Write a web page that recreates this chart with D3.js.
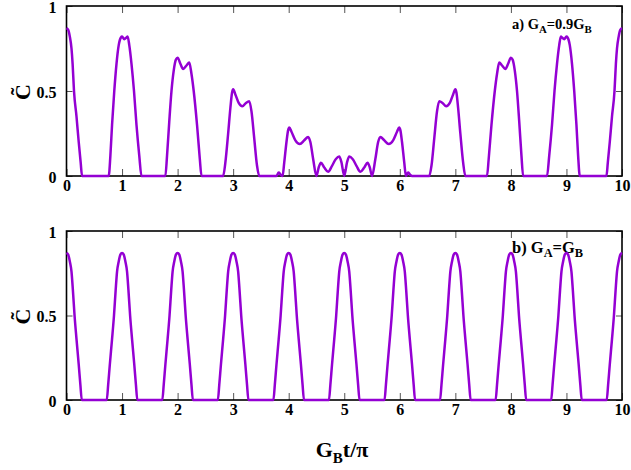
<!DOCTYPE html>
<html>
<head>
<meta charset="utf-8">
<script src="https://cdn.jsdelivr.net/npm/d3@7"></script>
<style>
  body { margin: 0; background: #fff; }
  svg text { font-family: "Liberation Serif", "Times New Roman", serif; font-weight: bold; }
</style>
</head>
<body>
<div id="chart"></div>
<script>
// Tick values
const xTicks = [0, 1, 2, 3, 4, 5, 6, 7, 8, 9, 10];
const yTicks = [0, 0.5, 1];

// Panel a) G_A = 0.9 G_B, [G_B t / pi, C~]
const unequal = [
  [0, 0.87], [0.03, 0.86], [0.06, 0.82], [0.09, 0.75], [0.11, 0.66], [0.135, 0.5], [0.18, 0.35], [0.22, 0.2], [0.255, 0.08], [0.28, 0],
  [0.76, 0], [0.79, 0.12], [0.82, 0.3], [0.86, 0.5], [0.9, 0.66], [0.94, 0.77], [0.98, 0.815], [1.0, 0.82], [1.04, 0.805], [1.08, 0.815], [1.1, 0.82], [1.13, 0.77], [1.17, 0.66], [1.215, 0.5], [1.26, 0.3], [1.31, 0.12], [1.35, 0],
  [1.78, 0], [1.81, 0.12], [1.85, 0.32], [1.89, 0.5], [1.93, 0.62], [1.97, 0.685], [2.0, 0.696], [2.05, 0.66], [2.1, 0.63], [2.16, 0.65], [2.21, 0.668], [2.25, 0.6], [2.29, 0.5], [2.35, 0.3], [2.4, 0.1], [2.43, 0],
  [2.82, 0], [2.86, 0.08], [2.91, 0.25], [2.95, 0.4], [2.98, 0.49], [3.0, 0.51], [3.04, 0.48], [3.1, 0.43], [3.165, 0.41], [3.23, 0.43], [3.29, 0.44], [3.33, 0.38], [3.38, 0.22], [3.43, 0.06], [3.47, 0],
  [3.78, 0], [3.82, 0.02], [3.85, 0.01], [3.89, 0],
  [3.92, 0.08], [3.96, 0.2], [3.99, 0.27], [4.01, 0.286], [4.05, 0.26], [4.12, 0.21], [4.2, 0.188], [4.28, 0.21], [4.35, 0.23], [4.39, 0.2], [4.44, 0.1], [4.5, 0],
  [4.54, 0.05], [4.58, 0.078], [4.64, 0.05], [4.71, 0.025], [4.78, 0.06], [4.85, 0.1], [4.91, 0.114], [4.95, 0.08], [5.0, 0],
  [5.05, 0.08], [5.09, 0.114], [5.15, 0.1], [5.22, 0.06], [5.29, 0.025], [5.36, 0.05], [5.42, 0.078], [5.46, 0.05], [5.5, 0],
  [5.56, 0.1], [5.61, 0.2], [5.65, 0.23], [5.72, 0.21], [5.8, 0.188], [5.88, 0.21], [5.95, 0.26], [5.99, 0.286], [6.01, 0.27], [6.04, 0.2], [6.08, 0.08], [6.11, 0],
  [6.15, 0.02], [6.18, 0.01], [6.22, 0],
  [6.53, 0], [6.57, 0.06], [6.62, 0.22], [6.67, 0.38], [6.71, 0.44], [6.77, 0.43], [6.835, 0.41], [6.9, 0.43], [6.96, 0.48], [7.0, 0.51], [7.02, 0.49], [7.05, 0.4], [7.09, 0.25], [7.14, 0.08], [7.18, 0],
  [7.57, 0], [7.6, 0.1], [7.65, 0.3], [7.71, 0.5], [7.75, 0.6], [7.79, 0.668], [7.84, 0.65], [7.9, 0.63], [7.95, 0.66], [8.0, 0.696], [8.03, 0.685], [8.07, 0.62], [8.11, 0.5], [8.15, 0.32], [8.19, 0.12], [8.22, 0],
  [8.65, 0], [8.69, 0.12], [8.74, 0.3], [8.785, 0.5], [8.83, 0.66], [8.87, 0.77], [8.9, 0.82], [8.92, 0.815], [8.96, 0.805], [9.0, 0.82], [9.02, 0.815], [9.06, 0.77], [9.1, 0.66], [9.14, 0.5], [9.18, 0.3], [9.21, 0.12], [9.24, 0],
  [9.72, 0], [9.745, 0.08], [9.78, 0.2], [9.82, 0.35], [9.865, 0.5], [9.89, 0.66], [9.91, 0.75], [9.94, 0.82], [9.97, 0.86], [10, 0.87]
];

// Panel b) G_A = G_B
const equal = [
  [0, 0.87], [0.03, 0.86], [0.06, 0.82], [0.09, 0.76], [0.115, 0.65], [0.145, 0.5], [0.18, 0.36], [0.22, 0.21], [0.25, 0.09], [0.275, 0],
  [0.725, 0], [0.75, 0.09], [0.78, 0.21], [0.82, 0.36], [0.855, 0.5], [0.885, 0.65], [0.91, 0.76], [0.94, 0.82], [0.97, 0.86], [1, 0.87], [1.03, 0.86], [1.06, 0.82], [1.09, 0.76], [1.115, 0.65], [1.145, 0.5], [1.18, 0.36], [1.22, 0.21], [1.25, 0.09], [1.275, 0],
  [1.725, 0], [1.75, 0.09], [1.78, 0.21], [1.82, 0.36], [1.855, 0.5], [1.885, 0.65], [1.91, 0.76], [1.94, 0.82], [1.97, 0.86], [2, 0.87], [2.03, 0.86], [2.06, 0.82], [2.09, 0.76], [2.115, 0.65], [2.145, 0.5], [2.18, 0.36], [2.22, 0.21], [2.25, 0.09], [2.275, 0],
  [2.725, 0], [2.75, 0.09], [2.78, 0.21], [2.82, 0.36], [2.855, 0.5], [2.885, 0.65], [2.91, 0.76], [2.94, 0.82], [2.97, 0.86], [3, 0.87], [3.03, 0.86], [3.06, 0.82], [3.09, 0.76], [3.115, 0.65], [3.145, 0.5], [3.18, 0.36], [3.22, 0.21], [3.25, 0.09], [3.275, 0],
  [3.725, 0], [3.75, 0.09], [3.78, 0.21], [3.82, 0.36], [3.855, 0.5], [3.885, 0.65], [3.91, 0.76], [3.94, 0.82], [3.97, 0.86], [4, 0.87], [4.03, 0.86], [4.06, 0.82], [4.09, 0.76], [4.115, 0.65], [4.145, 0.5], [4.18, 0.36], [4.22, 0.21], [4.25, 0.09], [4.275, 0],
  [4.725, 0], [4.75, 0.09], [4.78, 0.21], [4.82, 0.36], [4.855, 0.5], [4.885, 0.65], [4.91, 0.76], [4.94, 0.82], [4.97, 0.86], [5, 0.87], [5.03, 0.86], [5.06, 0.82], [5.09, 0.76], [5.115, 0.65], [5.145, 0.5], [5.18, 0.36], [5.22, 0.21], [5.25, 0.09], [5.275, 0],
  [5.725, 0], [5.75, 0.09], [5.78, 0.21], [5.82, 0.36], [5.855, 0.5], [5.885, 0.65], [5.91, 0.76], [5.94, 0.82], [5.97, 0.86], [6, 0.87], [6.03, 0.86], [6.06, 0.82], [6.09, 0.76], [6.115, 0.65], [6.145, 0.5], [6.18, 0.36], [6.22, 0.21], [6.25, 0.09], [6.275, 0],
  [6.725, 0], [6.75, 0.09], [6.78, 0.21], [6.82, 0.36], [6.855, 0.5], [6.885, 0.65], [6.91, 0.76], [6.94, 0.82], [6.97, 0.86], [7, 0.87], [7.03, 0.86], [7.06, 0.82], [7.09, 0.76], [7.115, 0.65], [7.145, 0.5], [7.18, 0.36], [7.22, 0.21], [7.25, 0.09], [7.275, 0],
  [7.725, 0], [7.75, 0.09], [7.78, 0.21], [7.82, 0.36], [7.855, 0.5], [7.885, 0.65], [7.91, 0.76], [7.94, 0.82], [7.97, 0.86], [8, 0.87], [8.03, 0.86], [8.06, 0.82], [8.09, 0.76], [8.115, 0.65], [8.145, 0.5], [8.18, 0.36], [8.22, 0.21], [8.25, 0.09], [8.275, 0],
  [8.725, 0], [8.75, 0.09], [8.78, 0.21], [8.82, 0.36], [8.855, 0.5], [8.885, 0.65], [8.91, 0.76], [8.94, 0.82], [8.97, 0.86], [9, 0.87], [9.03, 0.86], [9.06, 0.82], [9.09, 0.76], [9.115, 0.65], [9.145, 0.5], [9.18, 0.36], [9.22, 0.21], [9.25, 0.09], [9.275, 0],
  [9.725, 0], [9.75, 0.09], [9.78, 0.21], [9.82, 0.36], [9.855, 0.5], [9.885, 0.65], [9.91, 0.76], [9.94, 0.82], [9.97, 0.86], [10, 0.87]
];

const width = 631;
const height = 470;
const left = 66.5;
const right = 622;
const lineColor = '#9400d3';

const svg = d3.select('#chart').append('svg')
  .attr('width', width)
  .attr('height', height);

const x = d3.scaleLinear().domain([0, 10]).range([left, right]);

// Panel boxes: top and bottom pixel of each plot area
const panels = [
  { top: 6, bottom: 176, data: unequal, label: [['a) G', 0], ['A', 1], ['=0.9G', 0], ['B', 1]], lx: 512, ly: 29, size: 14.5 },
  { top: 231, bottom: 400, data: equal, label: [['b) G', 0], ['A', 1], ['=G', 0], ['B', 1]], lx: 512, ly: 253, size: 16.5 }
];

panels.forEach(p => {
  const y = d3.scaleLinear().domain([0, 1]).range([p.bottom, p.top]);
  const g = svg.append('g');

  // Axes with inward ticks
  const bottomAxis = g.append('g')
    .attr('transform', `translate(0, ${p.bottom})`)
    .call(d3.axisBottom(x).tickValues(xTicks).tickSize(-7).tickPadding(4).tickFormat(d3.format('d')));
  const topAxis = g.append('g')
    .attr('transform', `translate(0, ${p.top})`)
    .call(d3.axisTop(x).tickValues(xTicks).tickSize(-7).tickFormat(''));
  const leftAxis = g.append('g')
    .attr('transform', `translate(${left}, 0)`)
    .call(d3.axisLeft(y).tickValues(yTicks).tickSize(-6).tickPadding(10).tickFormat(d => String(d)));
  const rightAxis = g.append('g')
    .attr('transform', `translate(${right}, 0)`)
    .call(d3.axisRight(y).tickValues(yTicks).tickSize(-6).tickFormat(''));

  [bottomAxis, topAxis, leftAxis, rightAxis].forEach(a => {
    a.select('.domain').remove();
    a.selectAll('.tick line').attr('stroke', '#555').attr('stroke-width', 1);
    a.selectAll('.tick text').attr('fill', '#000').style('font-size', '16px');
  });
  leftAxis.selectAll('.tick text').attr('dy', '0.4em');

  // Frame
  g.append('rect')
    .attr('x', left)
    .attr('y', p.top)
    .attr('width', right - left)
    .attr('height', p.bottom - p.top)
    .attr('fill', 'none')
    .attr('stroke', '#000')
    .attr('stroke-width', 1.6);

  // Y title
  g.append('text')
    .attr('transform', `translate(30, ${(p.top + p.bottom) / 2 + 1}) rotate(-90)`)
    .attr('text-anchor', 'middle')
    .style('font-size', '22px')
    .text('C\u0303');

  // Panel label
  const t = g.append('text')
    .attr('x', p.lx)
    .attr('y', p.ly)
    .style('font-size', p.size + 'px');
  let shift = 0;
  p.label.forEach(([s, sub]) => {
    const dy = sub ? 4 - shift : -shift;
    shift = sub ? 4 : 0;
    t.append('tspan')
      .attr('dy', dy)
      .style('font-size', sub ? (p.size * 0.75) + 'px' : null)
      .text(s);
  });

  // Curve
  const line = d3.line()
    .x(d => x(d[0]))
    .y(d => y(d[1]))
    .curve(d3.curveMonotoneX);

  g.append('path')
    .datum(p.data)
    .attr('d', line)
    .attr('fill', 'none')
    .attr('stroke', lineColor)
    .attr('stroke-width', 2.5)
    .attr('stroke-linejoin', 'round');
});

// X title
const xt = svg.append('text')
  .attr('x', 342)
  .attr('y', 457)
  .attr('text-anchor', 'middle')
  .style('font-size', '22px');
xt.append('tspan').text('G');
xt.append('tspan').attr('dy', 6).style('font-size', '15px').text('B');
xt.append('tspan').attr('dy', -6).text('t/\u03c0');
</script>
</body>
</html>
